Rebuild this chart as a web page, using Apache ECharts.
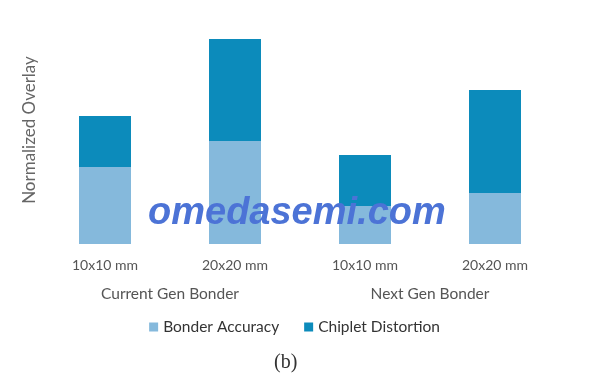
<!DOCTYPE html>
<html>
<head>
<meta charset="utf-8">
<script src="https://cdn.jsdelivr.net/npm/echarts@6/dist/echarts.min.js"></script>
<style>
  html, body { margin: 0; padding: 0; background: #fff; }
  #main { width: 589px; height: 374px; }
</style>
</head>
<body>
<div id="main"></div>
<script>
// 数据
var sizes = ['10x10 mm', '20x20 mm', '10x10 mm', '20x20 mm'];
var bonders = ['Current Gen Bonder', 'Next Gen Bonder'];
var bonderAccuracy = [0.77, 1.03, 0.38, 0.51];
var chipletDistortion = [0.51, 1.02, 0.51, 1.03];

var chart = echarts.init(document.getElementById('main'));
var font = 'Lato';

var option = {
  animation: false,
  grid: { left: 40, right: 29, top: 24, bottom: 130 },
  xAxis: [
    {
      type: 'category',
      data: sizes,
      axisLine: { show: false },
      axisTick: { show: false },
      axisLabel: { color: '#555', fontSize: 14, fontFamily: font, margin: 14 }
    },
    {
      type: 'category',
      position: 'bottom',
      offset: 30,
      data: bonders,
      axisLine: { show: false },
      axisTick: { show: false },
      axisLabel: { color: '#555', fontSize: 15.5, fontFamily: font, margin: 12 }
    }
  ],
  yAxis: {
    type: 'value',
    min: 0,
    max: 2.2,
    name: 'Normalized Overlay',
    nameLocation: 'middle',
    nameGap: 2,
    nameTextStyle: { color: '#666', fontSize: 17, fontFamily: font, padding: [0, 0, 0, 8] },
    axisLine: { show: false },
    axisTick: { show: false },
    axisLabel: { show: false },
    splitLine: { show: false }
  },
  legend: {
    bottom: 34,
    left: 'center',
    itemWidth: 9,
    itemHeight: 9,
    itemGap: 25,
    icon: 'rect',
    textStyle: { color: '#333', fontSize: 15.5, fontFamily: font }
  },
  series: [
    {
      name: 'Bonder Accuracy',
      type: 'bar',
      stack: 'a',
      barWidth: '40%',
      itemStyle: { color: '#85b9dc' },
      data: bonderAccuracy
    },
    {
      name: 'Chiplet Distortion',
      type: 'bar',
      stack: 'a',
      barWidth: '40%',
      itemStyle: { color: '#0c8bbb' },
      data: chipletDistortion
    }
  ],
  graphic: [
    {
      type: 'text',
      left: 274,
      top: 353,
      style: { text: '(b)', fill: '#333', font: '20px "Liberation Serif"' }
    },
    {
      type: 'text',
      x: 148,
      y: 195,
      z: 100,
      style: {
        text: 'omedasemi.com',
        fill: '#4c73d6',
        font: 'italic bold 38px "Liberation Sans"'
      }
    }
  ]
};

chart.setOption(option);
</script>
</body>
</html>
